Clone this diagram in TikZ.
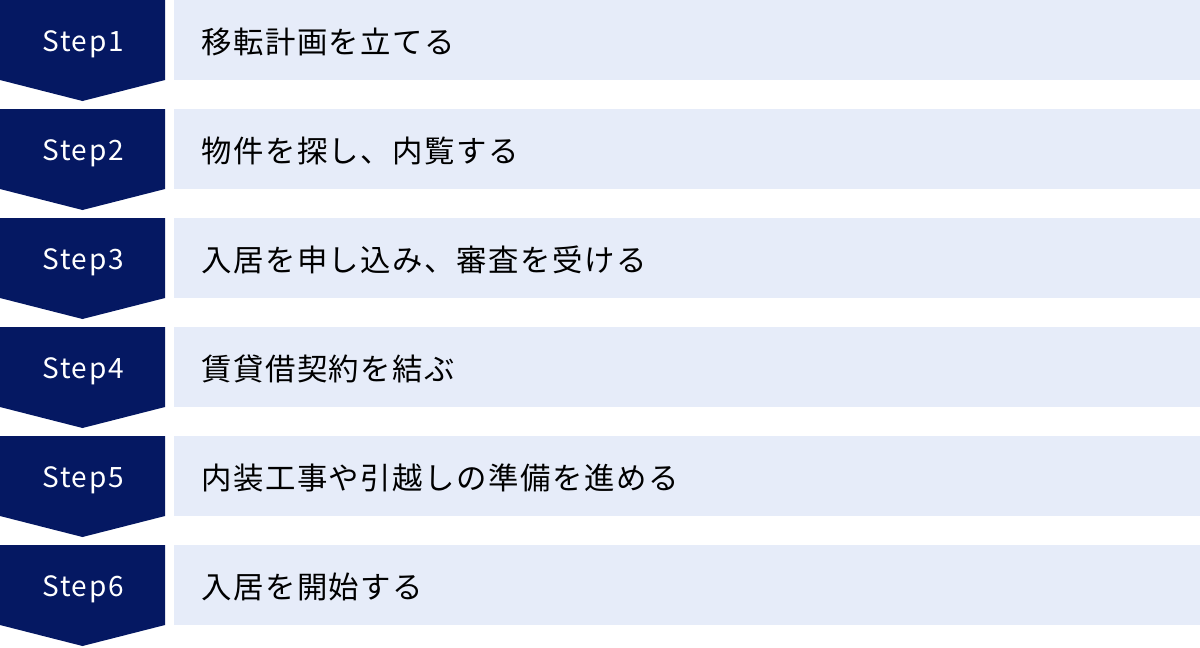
\documentclass[tikz,border=0pt]{standalone}
\usepackage{fontspec}
\setmainfont{Noto Sans CJK JP}
\usetikzlibrary{positioning}
\definecolor{navy}{HTML}{051862}
\definecolor{pale}{HTML}{E6ECF9}

\begin{document}
\begin{tikzpicture}[x=0.75pt, y=-0.75pt,
    stepmark/.style={text=white, inner sep=0pt, font=\fontsize{21pt}{22pt}\selectfont\addfontfeatures{LetterSpace=6}},
    steptext/.style={anchor=west, inner sep=0pt, text=black, font=\fontsize{22.8pt}{24pt}\selectfont\addfontfeatures{LetterSpace=5}}]
    \useasboundingbox (0,0) rectangle (1200,647);
    \foreach \n/\txt [count=\i from 0] in {1/移転計画を立てる, 2/物件を探し、内覧する, 3/入居を申し込み、審査を受ける, 4/賃貸借契約を結ぶ, 5/内装工事や引越しの準備を進める, 6/入居を開始する} {
        \fill[navy] (0,\i*109) -- (165,\i*109) -- (165,\i*109+80) -- (82.5,\i*109+101) -- (0,\i*109+80) -- cycle;
        \fill[pale] (174,\i*109) rectangle (1200,\i*109+80);
        \node[stepmark] (step\n) at (83,\i*109+44) {Step\n};
        \node[steptext] (task\n) at (201,\i*109+42) {\txt};
    }
\end{tikzpicture}
\end{document}
